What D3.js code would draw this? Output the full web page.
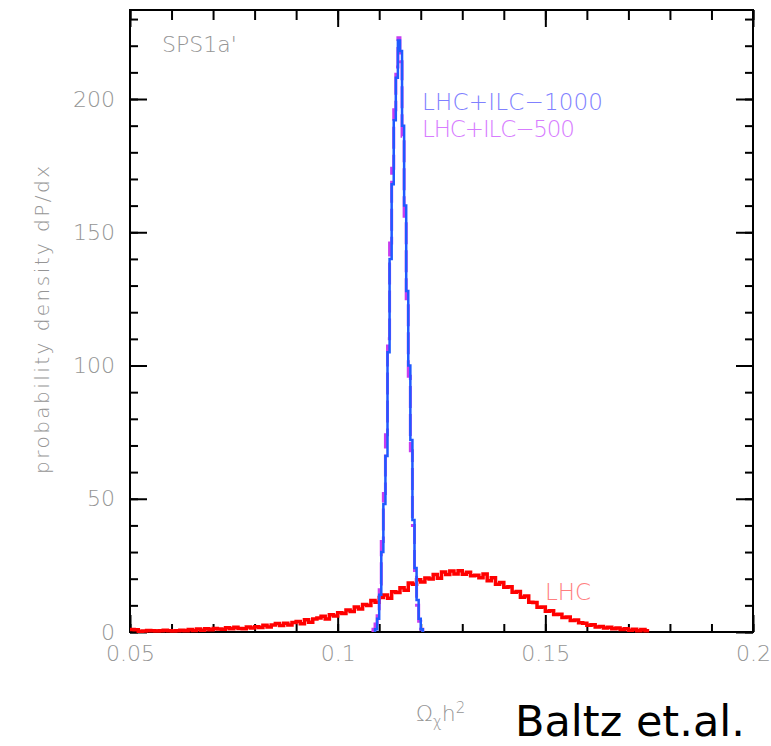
<!DOCTYPE html>
<html lang="en">
<head>
  <meta charset="UTF-8">
  <title>SPS1a' relic density</title>
  <style>
    body { margin: 0; background: #fff; }
    text { font-family: "DejaVu Sans", sans-serif; }
  </style>
</head>
<body>
  <svg id="chart" width="771" height="746"></svg>
  <script src="https://cdn.jsdelivr.net/npm/d3@7"></script>
  <script>

  // x axis: Omega h^2, y axis: probability density
  var xTicks = [0.05, 0.1, 0.15, 0.2];
  var yTicks = [0, 50, 100, 150, 200];

  // LHC histogram, bins of 0.001 starting at 0.050
  var lhcStart = 0.050;
  var lhcWidth = 0.001;
  var lhcValues = [
    0.9, 0.8, 0.3, 0.4, 0.6, 0.5, 0.4, 0.5, 0.7, 0.5,
    0.4, 0.5, 0.7, 0.5, 0.9, 0.6, 1.1, 0.7, 1.2, 0.8,
    1.3, 1.1, 1.0, 1.6, 1.2, 1.8, 1.3, 1.2, 1.9, 1.5,
    2.0, 1.7, 2.5, 1.9, 2.6, 3.2, 2.4, 3.3, 2.6, 3.6,
    3.9, 3.1, 4.6, 3.7, 4.9, 5.3, 5.9, 4.9, 6.5, 6.0,
    7.2, 6.9, 8.3, 7.7, 9.4, 8.6, 10.3, 9.9, 11.8, 11.2,
    12.9, 13.9, 12.7, 15.1, 14.8, 16.6, 15.7, 18.4, 17.9, 19.6,
    18.8, 20.3, 19.9, 21.6, 20.2, 22.5, 21.6, 22.9, 21.8, 23.0,
    21.7, 22.4, 21.1, 21.3, 20.4, 21.8, 19.2, 20.4, 17.9, 18.6,
    16.8, 17.0, 14.9, 15.2, 13.0, 13.5, 11.2, 11.1, 9.3, 9.4,
    7.8, 8.0, 6.6, 6.7, 5.4, 5.6, 4.3, 4.5, 3.5, 3.3,
    2.5, 2.7, 1.9, 2.1, 1.5, 1.8, 1.2, 1.5, 0.9, 1.2,
    0.7, 1.0, 0.5, 0.9, 0.5
  ];

  // LHC+ILC-1000 histogram, bins of 0.0005 starting at 0.1090
  var ilc1000Start = 0.1090;
  var ilc1000Width = 0.0005;
  var ilc1000Values = [
    1, 5, 14, 30, 48, 66, 105, 140, 168, 192, 208, 222,
    218, 190, 160, 128, 100, 72, 42, 24, 12, 5, 1
  ];

  // LHC+ILC-500 histogram, bins of 0.0005 starting at 0.1085
  var ilc500Start = 0.1085;
  var ilc500Width = 0.0005;
  var ilc500Values = [
    1, 3, 8, 18, 34, 52, 74, 110, 146, 174, 196, 212, 223,
    214, 186, 156, 124, 96, 68, 40, 22, 10, 4, 1
  ];

  var pL = 130, pR = 753, pT = 10, pB = 632;

  var svg = d3.select('#chart');

  var x = d3.scaleLinear().domain([0.05, 0.2]).range([pL, pR]);
  var y = d3.scaleLinear().domain([0, 233.4]).range([pB, pT]);

  var xMinor = d3.range(0.05, 0.2001, 0.01);
  var yMinor = d3.range(0, 231, 10);

  var labelGrey = '#959595';

  function styleAxis(g) {
    g.select('.domain').remove();
    g.selectAll('line').attr('stroke', '#000').attr('stroke-width', 2);
    g.selectAll('text')
      .attr('fill', labelGrey)
      .attr('font-size', 22)
      .attr('font-weight', 200)
      .attr('font-family', '"DejaVu Sans", sans-serif');
  }

  var fmt = d => String(+d.toFixed(2));

  // bottom
  svg.append('g').attr('transform', `translate(0,${pB})`)
    .call(d3.axisBottom(x).tickValues(xMinor).tickSize(-8).tickFormat(''))
    .call(styleAxis);
  svg.append('g').attr('transform', `translate(0,${pB})`)
    .call(d3.axisBottom(x).tickValues(xTicks).tickSize(-17).tickPadding(13).tickFormat(fmt))
    .call(styleAxis);
  // top
  svg.append('g').attr('transform', `translate(0,${pT})`)
    .call(d3.axisTop(x).tickValues(xMinor).tickSize(-10).tickFormat(''))
    .call(styleAxis);
  svg.append('g').attr('transform', `translate(0,${pT})`)
    .call(d3.axisTop(x).tickValues(xTicks).tickSize(-17).tickFormat(''))
    .call(styleAxis);
  // left
  svg.append('g').attr('transform', `translate(${pL},0)`)
    .call(d3.axisLeft(y).tickValues(yMinor).tickSize(-8).tickFormat(''))
    .call(styleAxis);
  svg.append('g').attr('transform', `translate(${pL},0)`)
    .call(d3.axisLeft(y).tickValues(yTicks).tickSize(-17).tickPadding(15).tickFormat(d3.format('d')))
    .call(styleAxis);
  // right
  svg.append('g').attr('transform', `translate(${pR},0)`)
    .call(d3.axisRight(y).tickValues(yMinor).tickSize(-8).tickFormat(''))
    .call(styleAxis);
  svg.append('g').attr('transform', `translate(${pR},0)`)
    .call(d3.axisRight(y).tickValues(yTicks).tickSize(-17).tickFormat(''))
    .call(styleAxis);

  // frame
  svg.append('rect')
    .attr('x', pL).attr('y', pT)
    .attr('width', pR - pL).attr('height', pB - pT)
    .attr('fill', 'none').attr('stroke', '#000').attr('stroke-width', 2);

  // histogram outline as steps
  function steps(start, width, values, closed) {
    var pts = values.map((v, i) => [start + i * width, v]);
    pts.push([start + values.length * width, values[values.length - 1]]);
    if (closed) {
      pts.unshift([start, 0]);
      pts.push([start + values.length * width, 0]);
    }
    return pts;
  }

  var line = d3.line()
    .curve(d3.curveStepAfter)
    .x(d => x(d[0]))
    .y(d => y(d[1]));

  var plot = svg.append('g');

  plot.append('path')
    .attr('d', line(steps(lhcStart, lhcWidth, lhcValues, false)))
    .attr('fill', 'none')
    .attr('stroke', '#ff0000')
    .attr('stroke-width', 3.5);

  plot.append('path')
    .attr('d', line(steps(ilc500Start, ilc500Width, ilc500Values, true)))
    .attr('fill', 'none')
    .attr('stroke', '#c83cf0')
    .attr('stroke-width', 3)
    .attr('stroke-dasharray', '22,6');

  plot.append('path')
    .attr('d', line(steps(ilc1000Start, ilc1000Width, ilc1000Values, true)))
    .attr('fill', 'none')
    .attr('stroke', '#1f5aff')
    .attr('stroke-width', 2.5);

  // labels
  svg.append('text')
    .attr('x', 162).attr('y', 52)
    .attr('fill', labelGrey).attr('font-size', 22).attr('font-weight', 200)
    .text("SPS1a'");

  svg.append('text')
    .attr('x', 422).attr('y', 110)
    .attr('fill', '#8080ff').attr('font-size', 23).attr('font-weight', 200)
    .attr('textLength', 181)
    .text('LHC+ILC\u22121000');

  svg.append('text')
    .attr('x', 422).attr('y', 137)
    .attr('fill', '#d77cff').attr('font-size', 23).attr('font-weight', 200)
    .attr('textLength', 153)
    .text('LHC+ILC\u2212500');

  svg.append('text')
    .attr('x', 545).attr('y', 600)
    .attr('fill', '#ff7f7f').attr('font-size', 23).attr('font-weight', 200)
    .text('LHC');

  // y title
  svg.append('text')
    .attr('transform', 'translate(49,320) rotate(-90)')
    .attr('text-anchor', 'middle')
    .attr('fill', labelGrey).attr('font-size', 20).attr('font-weight', 200)
    .attr('textLength', 308)
    .text('probability density dP/dx');

  // x title
  var xt = svg.append('text')
    .attr('x', 416).attr('y', 721)
    .attr('fill', labelGrey).attr('font-size', 22).attr('font-weight', 200);
  xt.append('tspan').text('\u03A9');
  xt.append('tspan').attr('font-size', 15).attr('dy', 6).text('\u03C7');
  xt.append('tspan').attr('dy', -6).text('h');
  xt.append('tspan').attr('font-size', 15).attr('dy', -8).text('2');

  svg.append('text')
    .attr('x', 515).attr('y', 736)
    .attr('fill', '#000').attr('font-size', 43)
    .attr('font-family', '"Liberation Sans", Arial, sans-serif')
    .text('Baltz et.al.');

  </script>
</body>
</html>
